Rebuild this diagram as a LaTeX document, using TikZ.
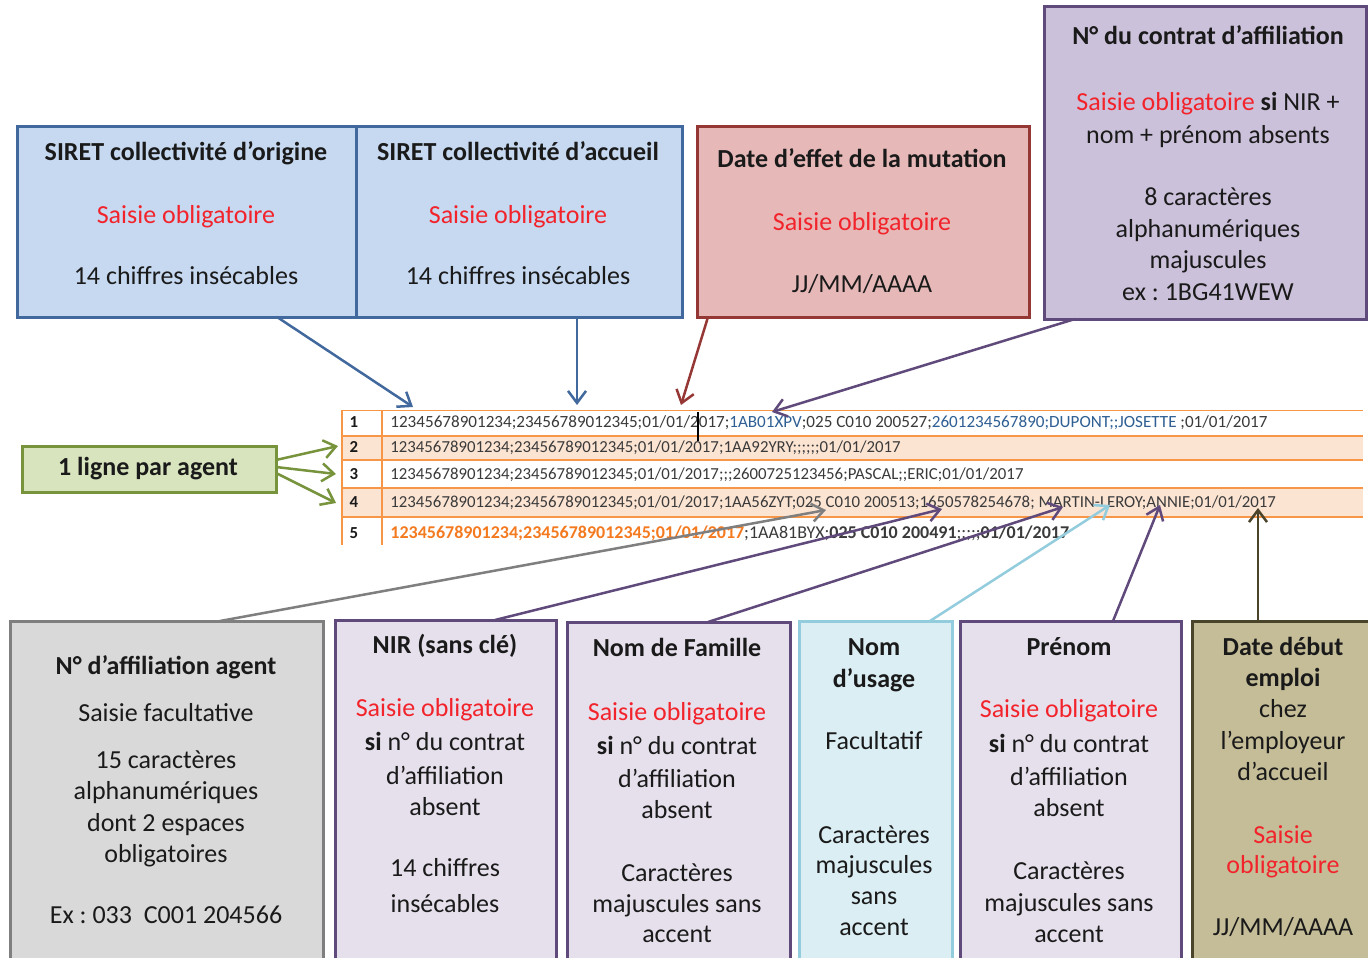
\documentclass[tikz,border=0pt]{standalone}
\usepackage{fontspec}
\setmainfont{Carlito}
\usetikzlibrary{arrows.meta}
\frenchspacing
\definecolor{txtc}{HTML}{1A1A1A}
\definecolor{rq}{HTML}{F2232B}
\definecolor{bluefill}{HTML}{C6D9F1}
\definecolor{blueline}{HTML}{41699E}
\definecolor{redfill}{HTML}{E6B9B8}
\definecolor{redline}{HTML}{953735}
\definecolor{purfill}{HTML}{CCC1DA}
\definecolor{purlight}{HTML}{E6E0EC}
\definecolor{purline}{HTML}{604A7B}
\definecolor{grayfill}{HTML}{D9D9D9}
\definecolor{grayline}{HTML}{7F7F7F}
\definecolor{cyanfill}{HTML}{DBEEF4}
\definecolor{cyanline}{HTML}{93CDDD}
\definecolor{olivefill}{HTML}{C4BD97}
\definecolor{oliveline}{HTML}{4A452A}
\definecolor{greenfill}{HTML}{D7E4BD}
\definecolor{greenline}{HTML}{77933C}
\definecolor{orline}{HTML}{F79646}
\definecolor{orfill}{HTML}{FCE4D3}
\definecolor{ortext}{HTML}{F47A20}
\definecolor{rowtext}{HTML}{3A3A3A}
\definecolor{rowblue}{HTML}{2F5F93}
\newcounter{tlc}
\newcommand\Ltxt[4][]{\stepcounter{tlc}\node[tline,#1] (tl\arabic{tlc}) at ({#2},{#3+8.5}) {#4};}
\newcommand\Bx[6]{\node[box,#6,minimum width={(#4-#2)*0.5pt},minimum height={(#5-#3)*0.5pt},anchor=north west] (#1) at (#2,#3) {};}
\newcommand\Row[4][]{\node[rowline,#1] (#2) at (390,{#3}) {#4};}
\begin{document}
\begin{tikzpicture}[x=0.5pt,y=-0.5pt,
  box/.style={draw,line width=1.5pt,inner sep=0pt,outer sep=0pt},
  tline/.style={anchor=base,inner sep=0pt,text=txtc,font=\fontsize{13}{15}\selectfont},
  hd/.style={font=\fontsize{13}{15}\selectfont\bfseries},
  red/.style={text=rq},
  rowline/.style={anchor=base west,inner sep=0pt,text=rowtext,font=\fontsize{8.4}{10}\selectfont},
  numc/.style={anchor=base,inner sep=0pt,text=txtc,font=\fontsize{8.4}{10}\selectfont\bfseries},
  arr/.style={line width=1.25pt,-{Straight Barb[length=6pt,width=9pt]}}]
\useasboundingbox (0,0) rectangle (1368,957);
\fill[white] (0,0) rectangle (1368,957);

% ---------- top boxes ----------
\Bx{siretO}{17}{127}{356}{317}{fill=bluefill,draw=blueline}
\Bx{siretA}{356}{127}{682}{317}{fill=bluefill,draw=blueline}
\Bx{dateE}{697}{127}{1029}{317}{fill=redfill,draw=redline}
\Bx{contrat}{1044}{7}{1366}{319}{fill=purfill,draw=purline}

\Ltxt[hd]{186}{152}{SIRET collectivité d’origine}
\Ltxt[red]{186}{215}{Saisie obligatoire}
\Ltxt{186}{276}{14 chiffres insécables}

\Ltxt[hd]{518}{152}{SIRET collectivité d’accueil}
\Ltxt[red]{518}{215}{Saisie obligatoire}
\Ltxt{518}{276}{14 chiffres insécables}

\Ltxt[hd]{862}{159}{Date d’effet de la mutation}
\Ltxt[red]{862}{222}{Saisie obligatoire}
\Ltxt{862}{284}{JJ/MM/AAAA}

\Ltxt[hd]{1208}{36}{N° du contrat d’affiliation}
\Ltxt{1208}{102}{\textcolor{rq}{Saisie obligatoire} \textbf{si} NIR +}
\Ltxt{1208}{135}{nom + prénom absents}
\Ltxt{1208}{197}{8 caractères}
\Ltxt{1208}{229}{alphanumériques}
\Ltxt{1208}{260}{majuscules}
\Ltxt{1208}{292}{ex : 1BG41WEW}

% ---------- table ----------
\fill[orfill] (342,436) rectangle (1363,460);
\fill[orfill] (342,488) rectangle (1363,517);
\draw[orline,line width=0.5pt] (342,410) -- (1363,410);
\draw[orline,line width=1.2pt] (342,436) -- (1363,436) (342,460) -- (1363,460);
\draw[orline,line width=1.2pt] (342,488) -- (1363,488) (342,517) -- (1363,517);
\draw[orline,line width=0.6pt] (342,410) -- (342,545) (382,410) -- (382,545);

\node[numc] (n1) at (354,427) {1};
\node[numc] (n2) at (354,452) {2};
\node[numc] (n3) at (354,479) {3};
\node[numc] (n4) at (354,507) {4};
\node[numc] (n5) at (354,538) {5};

\Row[font=\fontsize{8.55}{10}\selectfont]{r1}{427}{12345678901234;23456789012345;01/01/2017;\textcolor{rowblue}{1AB01XPV};025 C010 200527;\textcolor{rowblue}{2601234567890;DUPONT;;JOSETTE} ;01/01/2017}
\Row{r2}{452}{12345678901234;23456789012345;01/01/2017;1AA92YRY;;;;;;01/01/2017}
\Row{r3}{479}{12345678901234;23456789012345;01/01/2017;;;2600725123456;PASCAL;;ERIC;01/01/2017}
\Row{r4}{507}{12345678901234;23456789012345;01/01/2017;1AA56ZYT;025 C010 200513;1650578254678; MARTIN-LEROY;ANNIE;01/01/2017}
\Row[font=\fontsize{9}{10}\selectfont]{r5}{538}{\textcolor{ortext}{\bfseries 12345678901234;23456789012345;01/01/2017};1AA81BYX;\textbf{025 C010 200491};;;;;\textbf{01/01/2017}}

\draw[black,line width=1pt] (698,412) -- (698,441);

% ---------- green box ----------
\Bx{grn}{22}{446}{276}{492}{fill=greenfill,draw=greenline}
\Ltxt[hd]{148}{467}{1 ligne par agent}

% ---------- bottom boxes ----------
\Bx{affil}{10}{621}{323}{980}{fill=grayfill,draw=grayline}
\Bx{nir}{335}{620}{556}{980}{fill=purlight,draw=purline}
\Bx{nomF}{567}{622}{790}{980}{fill=purlight,draw=purline}
\Bx{nomU}{799}{621}{952}{980}{fill=cyanfill,draw=cyanline}
\Bx{prenom}{960}{621}{1181}{980}{fill=purlight,draw=purline}
\Bx{dateD}{1192}{621}{1380}{980}{fill=olivefill,draw=oliveline}

\Ltxt[hd]{166}{666}{N° d’affiliation agent}
\Ltxt{166}{713}{Saisie facultative}
\Ltxt{166}{760}{15 caractères}
\Ltxt{166}{791}{alphanumériques}
\Ltxt{166}{823}{dont 2 espaces}
\Ltxt{166}{854}{obligatoires}
\Ltxt{166}{915}{Ex : 033\ \ C001 204566}

\Ltxt[hd]{445}{645}{NIR (sans clé)}
\Ltxt[red]{445}{708}{Saisie obligatoire}
\Ltxt{445}{742}{\textbf{si} n° du contrat}
\Ltxt{445}{776}{d’affiliation}
\Ltxt{445}{807}{absent}
\Ltxt{445}{868}{14 chiffres}
\Ltxt{445}{904}{insécables}

\Ltxt[hd]{677}{648}{Nom de Famille}
\Ltxt[red]{677}{712}{Saisie obligatoire}
\Ltxt{677}{746}{\textbf{si} n° du contrat}
\Ltxt{677}{779}{d’affiliation}
\Ltxt{677}{810}{absent}
\Ltxt{677}{873}{Caractères}
\Ltxt{677}{904}{majuscules sans}
\Ltxt{677}{934}{accent}

\Ltxt[hd]{874}{647}{Nom}
\Ltxt[hd]{874}{679}{d’usage}
\Ltxt{874}{741}{Facultatif}
\Ltxt{874}{835}{Caractères}
\Ltxt{874}{865}{majuscules}
\Ltxt{874}{896}{sans}
\Ltxt{874}{927}{accent}

\Ltxt[hd]{1069}{647}{Prénom}
\Ltxt[red]{1069}{709}{Saisie obligatoire}
\Ltxt{1069}{744}{\textbf{si} n° du contrat}
\Ltxt{1069}{777}{d’affiliation}
\Ltxt{1069}{808}{absent}
\Ltxt{1069}{871}{Caractères}
\Ltxt{1069}{903}{majuscules sans}
\Ltxt{1069}{934}{accent}

\Ltxt[hd]{1283}{647}{Date début}
\Ltxt[hd]{1283}{678}{emploi}
\Ltxt{1283}{709}{chez}
\Ltxt{1283}{741}{l’employeur}
\Ltxt{1283}{772}{d’accueil}
\Ltxt[red]{1283}{835}{Saisie}
\Ltxt[red]{1283}{865}{obligatoire}
\Ltxt{1283}{927}{JJ/MM/AAAA}

% ---------- arrow targets ----------
\coordinate (tSO) at (413,407);
\coordinate (tSA) at (577,405);
\coordinate (tDE) at (681,405);
\coordinate (tCO) at (772,412);
\coordinate (tAF) at (826,510);
\coordinate (tNI) at (942,509);
\coordinate (tNF) at (1063,507);
\coordinate (tNU) at (1110,505);
\coordinate (tPR) at (1160,505);
\coordinate (tDD) at (1258,508);
\coordinate (tG1) at (338,446);
\coordinate (tG2) at (336,474);
\coordinate (tG3) at (336,503);

% ---------- arrows ----------
\draw[arr,blueline] ([xshift=130pt]siretO.south west) -- (tSO);
\draw[arr,blueline] ([xshift=110.5pt]siretA.south west) -- (tSA);
\draw[arr,redline] ([xshift=5.5pt]dateE.south west) -- (tDE);
\draw[arr,purline] ([xshift=15.5pt]contrat.south west) -- (tCO);
\draw[arr,grayline] ([xshift=105pt]affil.north west) -- (tAF);
\draw[arr,purline] ([xshift=80pt]nir.north west) -- (tNI);
\draw[arr,purline] ([xshift=70.5pt]nomF.north west) -- (tNF);
\draw[arr,cyanline] ([xshift=65.5pt]nomU.north west) -- (tNU);
\draw[arr,purline] ([xshift=76.5pt]prenom.north west) -- (tPR);
\draw[arr,oliveline] ([xshift=33pt]dateD.north west) -- (tDD);
\draw[arr,greenline] ([yshift=4.5pt]grn.east) -- (tG1);
\draw[arr,greenline] ([yshift=1pt]grn.east) -- (tG2);
\draw[arr,greenline] ([yshift=-2pt]grn.east) -- (tG3);
\end{tikzpicture}
\end{document}
